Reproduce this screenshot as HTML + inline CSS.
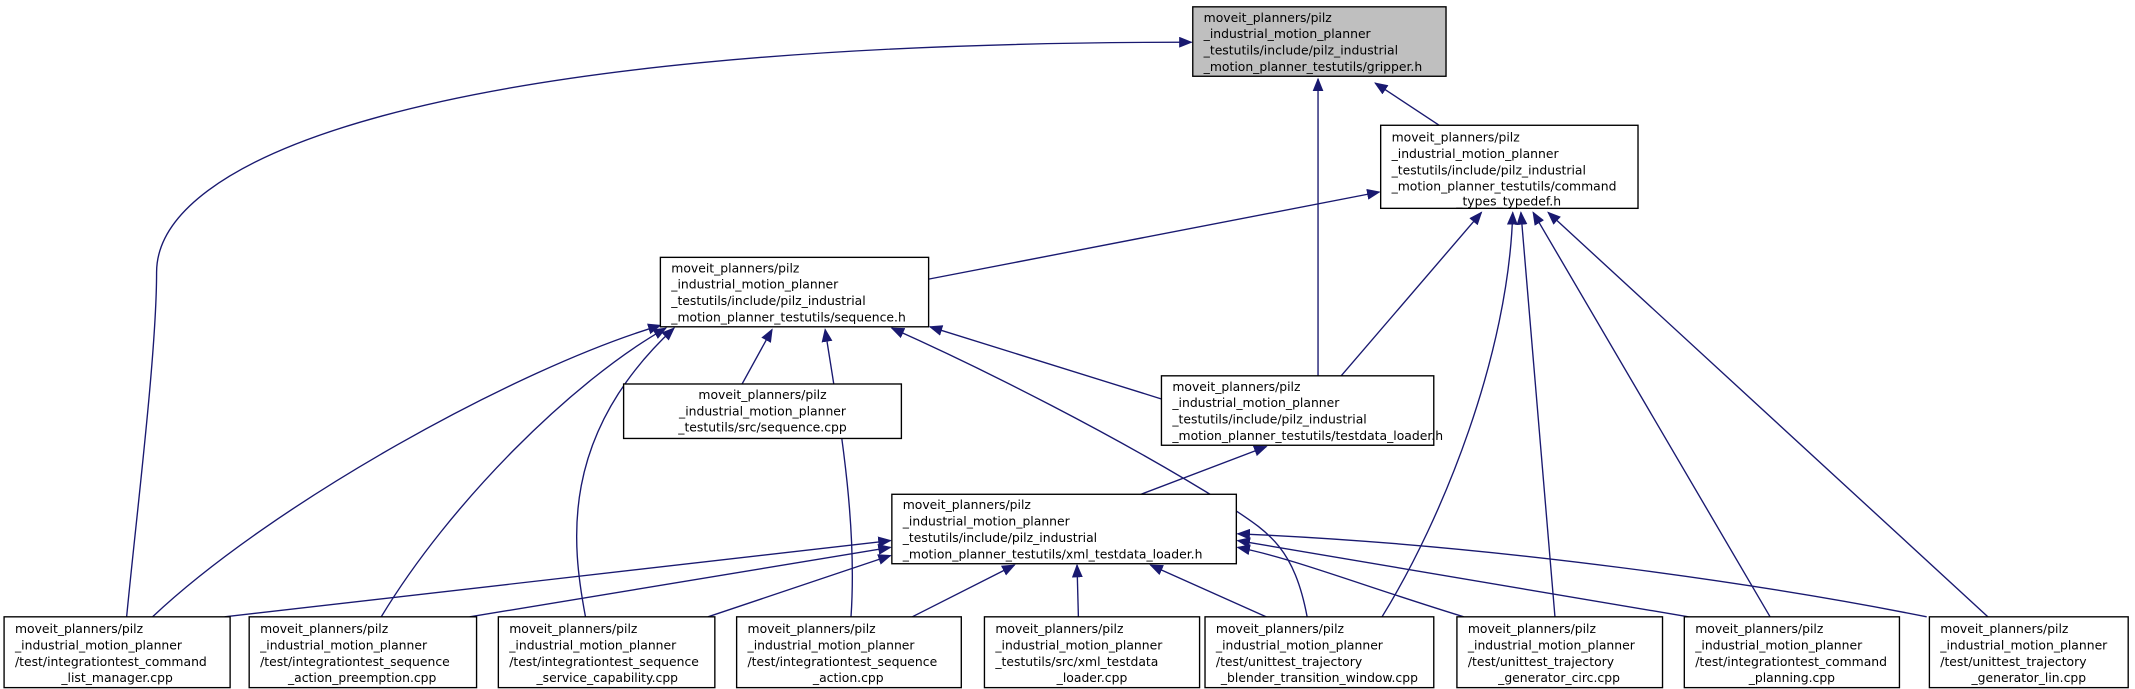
<!DOCTYPE html>
<html><head><meta charset="utf-8"><style>
html,body{margin:0;padding:0;background:#fff;}
svg{display:block;}
text{font-family:"DejaVu Sans","Liberation Sans",sans-serif;font-size:9.1px;fill:#000;}
.b{fill:#fff;stroke:#000;stroke-width:1;}
.e{fill:none;stroke:#191970;stroke-width:1;}
</style></head><body>
<svg width="2135" height="689" viewBox="0 0 1568 506" xmlns="http://www.w3.org/2000/svg">
<defs><marker id="a" markerWidth="10" markerHeight="8" refX="9" refY="4" orient="auto" markerUnits="userSpaceOnUse"><path d="M0,0 L10,4 L0,8 z" fill="#191970"/></marker></defs>

<g class="e" marker-end="url(#a)">
<path d="M93,453 C100,380 115,260 115,200 C115,120 300,31 875,31"/>
<path d="M968,276 L968,58"/>
<path d="M1057,92 L1010,61"/>
<path d="M682,205 L1013,141"/>
<path d="M985,276 L1088,156"/>
<path d="M1015,453 C1060,380 1108,260 1111,156"/>
<path d="M1142,453 L1117,156"/>
<path d="M1300,453 L1126,156"/>
<path d="M1460,453 L1137,156"/>
<path d="M545,282 L567,242"/>
<path d="M853,293 L683,240"/>
<path d="M112,453 C200,370 380,270 485,239"/>
<path d="M280,453 C330,370 420,280 489,241"/>
<path d="M430,453 C420,400 410,320 495,241"/>
<path d="M625,453 C630,380 615,300 606,242"/>
<path d="M960,453 C950,400 930,390 900,370 C820,320 720,270 655,241"/>
<path d="M838,363 L930,328"/>
<path d="M165,453 L654,397"/>
<path d="M345,453 L654,402"/>
<path d="M520,453 L654,408"/>
<path d="M670,453 L745,415"/>
<path d="M792,453 L791,415"/>
<path d="M930,453 L845,415"/>
<path d="M1075,453 C1000,430 950,410 909,402"/>
<path d="M1240,453 L909,397"/>
<path d="M1415,453 C1300,430 1100,400 909,392"/>
</g>

<rect x="876" y="5" width="186" height="51" fill="#bfbfbf" stroke="#000"/>
<text x="884" y="16">moveit_planners/pilz</text>
<text x="884" y="28">_industrial_motion_planner</text>
<text x="884" y="40">_testutils/include/pilz_industrial</text>
<text x="884" y="52">_motion_planner_testutils/gripper.h</text>

<rect class="b" x="1014" y="92" width="189" height="61"/>
<text x="1022" y="104">moveit_planners/pilz</text>
<text x="1022" y="116">_industrial_motion_planner</text>
<text x="1022" y="128">_testutils/include/pilz_industrial</text>
<text x="1022" y="140">_motion_planner_testutils/command</text>
<text x="1108" y="151" text-anchor="middle">_types_typedef.h</text>

<rect class="b" x="485" y="189" width="197" height="51"/>
<text x="493" y="200">moveit_planners/pilz</text>
<text x="493" y="212">_industrial_motion_planner</text>
<text x="493" y="224">_testutils/include/pilz_industrial</text>
<text x="493" y="236">_motion_planner_testutils/sequence.h</text>

<rect class="b" x="458" y="282" width="204" height="40"/>
<text x="560" y="293" text-anchor="middle">moveit_planners/pilz</text>
<text x="560" y="305" text-anchor="middle">_industrial_motion_planner</text>
<text x="560" y="317" text-anchor="middle">_testutils/src/sequence.cpp</text>

<rect class="b" x="853" y="276" width="200" height="51"/>
<text x="861" y="287">moveit_planners/pilz</text>
<text x="861" y="299">_industrial_motion_planner</text>
<text x="861" y="311">_testutils/include/pilz_industrial</text>
<text x="861" y="323">_motion_planner_testutils/testdata_loader.h</text>

<rect class="b" x="655" y="363" width="253" height="51"/>
<text x="663" y="374">moveit_planners/pilz</text>
<text x="663" y="386">_industrial_motion_planner</text>
<text x="663" y="398">_testutils/include/pilz_industrial</text>
<text x="663" y="410">_motion_planner_testutils/xml_testdata_loader.h</text>

<g>
<rect class="b" x="3" y="453" width="166" height="52"/>
<text x="11" y="465">moveit_planners/pilz</text><text x="11" y="477">_industrial_motion_planner</text><text x="11" y="489">/test/integrationtest_command</text><text x="86" y="501" text-anchor="middle">_list_manager.cpp</text>

<rect class="b" x="183" y="453" width="167" height="52"/>
<text x="191" y="465">moveit_planners/pilz</text><text x="191" y="477">_industrial_motion_planner</text><text x="191" y="489">/test/integrationtest_sequence</text><text x="266" y="501" text-anchor="middle">_action_preemption.cpp</text>

<rect class="b" x="366" y="453" width="159" height="52"/>
<text x="374" y="465">moveit_planners/pilz</text><text x="374" y="477">_industrial_motion_planner</text><text x="374" y="489">/test/integrationtest_sequence</text><text x="446" y="501" text-anchor="middle">_service_capability.cpp</text>

<rect class="b" x="541" y="453" width="165" height="52"/>
<text x="549" y="465">moveit_planners/pilz</text><text x="549" y="477">_industrial_motion_planner</text><text x="549" y="489">/test/integrationtest_sequence</text><text x="623" y="501" text-anchor="middle">_action.cpp</text>

<rect class="b" x="723" y="453" width="158" height="52"/>
<text x="731" y="465">moveit_planners/pilz</text><text x="731" y="477">_industrial_motion_planner</text><text x="731" y="489">_testutils/src/xml_testdata</text><text x="802" y="501" text-anchor="middle">_loader.cpp</text>

<rect class="b" x="885" y="453" width="168" height="52"/>
<text x="893" y="465">moveit_planners/pilz</text><text x="893" y="477">_industrial_motion_planner</text><text x="893" y="489">/test/unittest_trajectory</text><text x="969" y="501" text-anchor="middle">_blender_transition_window.cpp</text>

<rect class="b" x="1070" y="453" width="151" height="52"/>
<text x="1078" y="465">moveit_planners/pilz</text><text x="1078" y="477">_industrial_motion_planner</text><text x="1078" y="489">/test/unittest_trajectory</text><text x="1145" y="501" text-anchor="middle">_generator_circ.cpp</text>

<rect class="b" x="1237" y="453" width="158" height="52"/>
<text x="1245" y="465">moveit_planners/pilz</text><text x="1245" y="477">_industrial_motion_planner</text><text x="1245" y="489">/test/integrationtest_command</text><text x="1316" y="501" text-anchor="middle">_planning.cpp</text>

<rect class="b" x="1417" y="453" width="146" height="52"/>
<text x="1425" y="465">moveit_planners/pilz</text><text x="1425" y="477">_industrial_motion_planner</text><text x="1425" y="489">/test/unittest_trajectory</text><text x="1490" y="501" text-anchor="middle">_generator_lin.cpp</text>
</g>
</svg>
</body></html>
